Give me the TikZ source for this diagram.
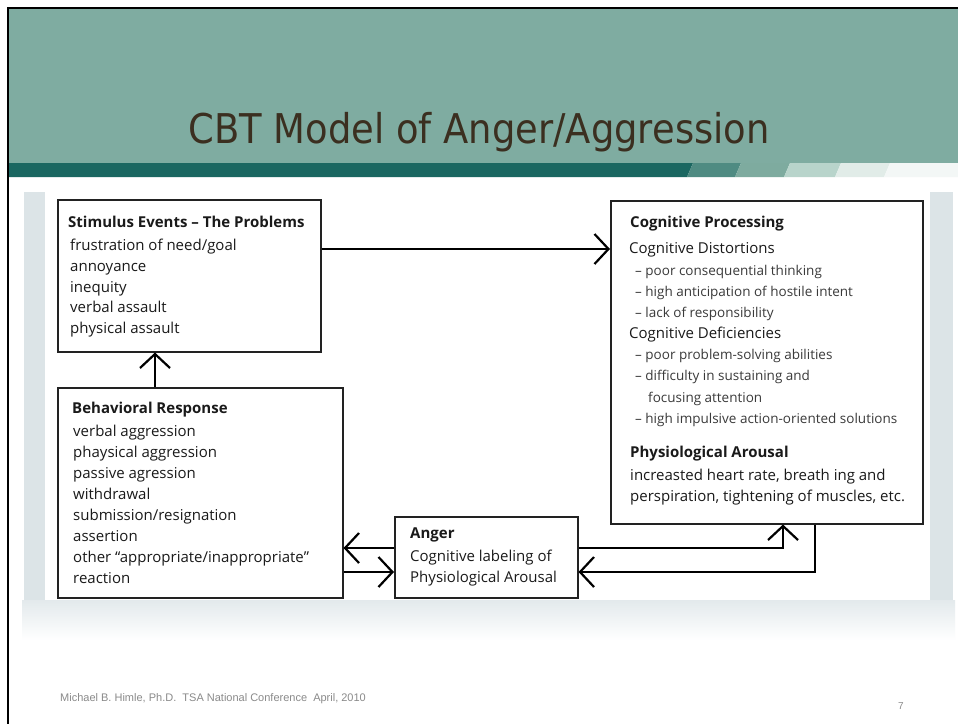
\documentclass[tikz,border=0pt]{standalone}
\usepackage{fontspec}
\usetikzlibrary{arrows.meta}
\newfontfamily\boxfont{Open Sans}
\newfontfamily\titlefont[FakeStretch=0.9]{DejaVu Sans}
\newfontfamily\footfont{Liberation Sans}
\definecolor{hdr}{HTML}{7FACA1}
\definecolor{bandA}{HTML}{1B6761}
\definecolor{bandB}{HTML}{4F8B82}
\definecolor{bandC}{HTML}{7EAB9F}
\definecolor{bandD}{HTML}{B8D4CB}
\definecolor{bandE}{HTML}{E1ECE8}
\definecolor{bandF}{HTML}{F3F7F6}
\definecolor{titlecol}{HTML}{3B2F20}
\definecolor{strip}{HTML}{DCE4E7}
\definecolor{boxline}{HTML}{222222}
\definecolor{ink}{HTML}{1A1A1A}
\definecolor{subink}{HTML}{3A3A3A}
\definecolor{footcol}{HTML}{8A8A8A}
\tikzset{
  box/.style={draw=boxline, line width=1.5pt, fill=white, anchor=north west, inner sep=0pt},
  txt/.style={anchor=base west, inner sep=0pt, text=ink, font=\boxfont\fontsize{15}{17}\selectfont},
  hd/.style={txt, font=\boxfont\bfseries\fontsize{15}{17}\selectfont},
  sub/.style={txt, text=subink, font=\boxfont\fontsize{13.5}{16}\selectfont},
  conn/.style={draw=black, line width=2.2pt, -{Straight Barb[length=14pt,width=30pt]}},
}
\begin{document}
\begin{tikzpicture}[x=1pt,y=-1pt]
% page
\fill[white] (0,0) rectangle (958,724);
\useasboundingbox (0,0) rectangle (958,724);
% header
\fill[hdr] (9,9) rectangle (958,163);
\fill[bandA] (9,163) -- (693,163) -- (687,177) -- (9,177) -- cycle;
\fill[bandB] (693,163) -- (741,163) -- (735,177) -- (687,177) -- cycle;
\fill[bandC] (741,163) -- (790,163) -- (784,177) -- (735,177) -- cycle;
\fill[bandD] (790,163) -- (841,163) -- (835,177) -- (784,177) -- cycle;
\fill[bandE] (841,163) -- (890,163) -- (884,177) -- (835,177) -- cycle;
\fill[bandF] (890,163) -- (958,163) -- (958,177) -- (884,177) -- cycle;
\node[anchor=base, inner sep=0pt, text=titlecol, font=\titlefont\fontsize{41}{46}\selectfont] (title) at (479,143) {CBT Model of Anger/Aggression};
% slide frame
\fill[black] (7,7) rectangle (958,9);
\fill[black] (7,7) rectangle (9,724);
% diagram backdrop
\fill[strip] (24,192) rectangle (45,600);
\fill[strip] (930,192) rectangle (953,600);
\shade[top color=strip!80, bottom color=white] (22,600) rectangle (955,640);
% boxes
\node[box, minimum width=263pt, minimum height=152pt] (stim) at (57,199) {};
\node[box, minimum width=312pt, minimum height=323pt] (cog) at (610,200) {};
\node[box, minimum width=285pt, minimum height=210pt] (beh) at (57,387) {};
\node[box, minimum width=183pt, minimum height=81pt] (anger) at (394,516) {};
% stimulus text
\node[hd] (s0) at (68,227) {Stimulus Events – The Problems};
\node[txt] (s1) at (70,250) {frustration of need/goal};
\node[txt] (s2) at (70,271) {annoyance};
\node[txt] (s3) at (70,292) {inequity};
\node[txt] (s4) at (70,312) {verbal assault};
\node[txt] (s5) at (70,333) {physical assault};
% cognitive text
\node[hd] (c0) at (630,227) {Cognitive Processing};
\node[txt] (c1) at (629,253) {Cognitive Distortions};
\node[sub] (c2) at (635,275) {– poor consequential thinking};
\node[sub] (c3) at (635,296) {– high anticipation of hostile intent};
\node[sub] (c4) at (635,317) {– lack of responsibility};
\node[txt] (c5) at (629,338) {Cognitive Deficiencies};
\node[sub] (c6) at (635,359) {– poor problem-solving abilities};
\node[sub] (c7) at (635,380) {– difficulty in sustaining and};
\node[sub] (c8) at (648,402) {focusing attention};
\node[sub] (c9) at (635,423) {– high impulsive action-oriented solutions};
\node[hd] (c10) at (630,457) {Physiological Arousal};
\node[txt] (c11) at (630,480) {increasted heart rate, breath ing and};
\node[txt] (c12) at (630,501) {perspiration, tightening of muscles, etc.};
% behavioral text
\node[hd] (b0) at (72,413) {Behavioral Response};
\node[txt] (b1) at (73,436) {verbal aggression};
\node[txt] (b2) at (73,457) {phaysical aggression};
\node[txt] (b3) at (73,478) {passive agression};
\node[txt] (b4) at (73,499) {withdrawal};
\node[txt] (b5) at (73,520) {submission/resignation};
\node[txt] (b6) at (73,541) {assertion};
\node[txt] (b7) at (73,562) {other “appropriate/inappropriate”};
\node[txt] (b8) at (73,583) {reaction};
% anger text
\node[hd] (a0) at (410,538) {Anger};
\node[txt] (a1) at (410,561) {Cognitive labeling of};
\node[txt] (a2) at (410,582) {Physiological Arousal};
% routing guides
\coordinate (rowTop) at (0,249);
\coordinate (rowUp) at (0,548);
\coordinate (rowLow) at (0,572);
\coordinate (colBeh) at (155,0);
\coordinate (colUp) at (783,0);
\coordinate (colDown) at (815,0);
% connectors
\draw[conn] (stim.east |- rowTop) -- (cog.west |- rowTop);
\draw[conn] (beh.north -| colBeh) -- (stim.south -| colBeh);
\draw[conn] (anger.west |- rowUp) -- (beh.east |- rowUp);
\draw[conn] (beh.east |- rowLow) -- (anger.west |- rowLow);
\draw[conn] (anger.east |- rowUp) -| (cog.south -| colUp);
\draw[conn] (cog.south -| colDown) |- (anger.east |- rowLow);
% footer
\node[anchor=base west, inner sep=0pt, text=footcol, font=\footfont\fontsize{11}{13}\selectfont] (foot) at (60,701) {Michael B. Himle, Ph.D.\ \ TSA National Conference\ \ April, 2010};
\node[anchor=base west, inner sep=0pt, text=footcol, font=\footfont\fontsize{10}{12}\selectfont] (pageno) at (898,709) {7};
\end{tikzpicture}
\end{document}
